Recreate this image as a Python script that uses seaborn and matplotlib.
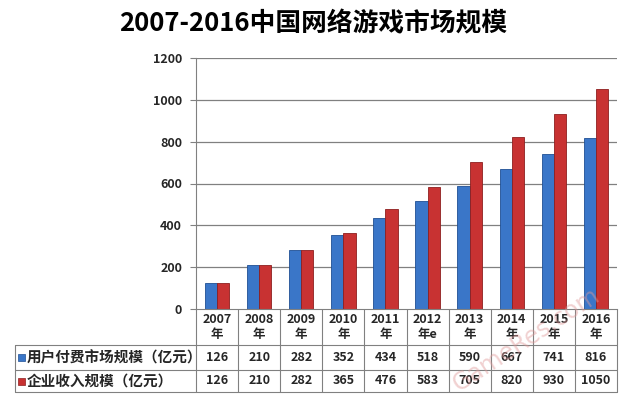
import matplotlib
matplotlib.use("Agg")
import matplotlib.pyplot as plt
import matplotlib.transforms as mtransforms
from matplotlib.patches import Rectangle
import pandas as pd
import seaborn as sns

years = ["2007\n年", "2008\n年", "2009\n年", "2010\n年", "2011\n年",
         "2012\n年e", "2013\n年", "2014\n年", "2015\n年", "2016\n年"]
series_names = ["用户付费市场规模（亿元）", "企业收入规模（亿元）"]
user_pay = [126, 210, 282, 352, 434, 518, 590, 667, 741, 816]
corp_rev = [126, 210, 282, 365, 476, 583, 705, 820, 930, 1050]
yticks = [0, 200, 400, 600, 800, 1000, 1200]
colors = ["#3a76c8", "#c83232"]
edges = ["#1f4f93", "#8e1f1f"]

sns.set_style("white")
plt.rcParams["font.family"] = ["Noto Sans CJK SC", "DejaVu Sans"]

df = pd.DataFrame({
    "year": years * 2,
    "value": user_pay + corp_rev,
    "series": [series_names[0]] * len(years) + [series_names[1]] * len(years),
})

fig = plt.figure(figsize=(6.27, 3.95), dpi=100)
ax = fig.add_axes([196 / 627, 1 - 309 / 395, 421 / 627, 251 / 395])

sns.barplot(data=df, x="year", y="value", hue="series", palette=colors,
            width=0.58, ax=ax, legend=False, saturation=1)
for i, bar in enumerate(ax.patches[:2 * len(years)]):
    bar.set_edgecolor(edges[i // len(years)])
    bar.set_linewidth(0.6)

ax.set_ylim(0, 1200)
ax.set_xlim(-0.5, len(years) - 0.5)
ax.set_yticks(yticks)
ax.set_yticklabels([str(t) for t in yticks], fontsize=9, fontweight="bold")
ax.tick_params(axis="y", length=4, width=0.8, color="#808080", pad=6, left=True)
ax.set_xticks([])
ax.set_xlabel("")
ax.set_ylabel("")
for y in yticks[1:]:
    ax.axhline(y, color="#808080", lw=0.9, zorder=0)
for s in ["top", "right"]:
    ax.spines[s].set_visible(False)
ax.spines["left"].set_color("#808080")
ax.spines["bottom"].set_color("#808080")
ax.set_axisbelow(True)

fig.text(0.5, 1 - 24 / 395, "2007-2016中国网络游戏市场规模", ha="center", va="center",
         fontsize=18.5, fontweight="bold", color="black")

# data table under the axis
trans = mtransforms.blended_transform_factory(ax.transData, ax.transAxes)
px = 1 / 251
y_head = -36 * px
y_r1 = -61 * px
y_r2 = -83 * px
x_left = (15 - 196) / 421
lc = "#808080"
line_kw = dict(color=lc, lw=0.8, clip_on=False)
for i in range(len(years) + 1):
    ax.plot([i - 0.5, i - 0.5], [0, y_r2], transform=trans, **line_kw)
for y in [y_head, y_r1, y_r2]:
    ax.plot([x_left, 1], [y, y], transform=ax.transAxes, **line_kw)
ax.plot([x_left, x_left], [y_head, y_r2], transform=ax.transAxes, **line_kw)

for i, lab in enumerate(years):
    ax.text(i, y_head / 2, lab, transform=trans, ha="center", va="center",
            fontsize=9, fontweight="bold", linespacing=1.2)
rows = [(user_pay, (y_head + y_r1) / 2), (corp_rev, (y_r1 + y_r2) / 2)]
for k, (vals, yc) in enumerate(rows):
    for i, v in enumerate(vals):
        ax.text(i, yc, str(v), transform=trans, ha="center", va="center",
                fontsize=9, fontweight="bold")
    ax.add_patch(Rectangle((x_left + 3 / 421, yc - 3.5 * px), 7 / 421, 7 * px,
                           transform=ax.transAxes, facecolor=colors[k],
                           edgecolor=edges[k], lw=0.5, clip_on=False))
    ax.text(x_left + 12 / 421, yc, series_names[k], transform=ax.transAxes,
            ha="left", va="center", fontsize=10.5, fontweight="bold")

fig.text(0.84, 0.14, "GameRes.com", rotation=33, ha="center", va="center",
         fontsize=17, color="#e09a9a", alpha=0.45, family="DejaVu Sans")

fig.savefig("out.png", dpi=100)
